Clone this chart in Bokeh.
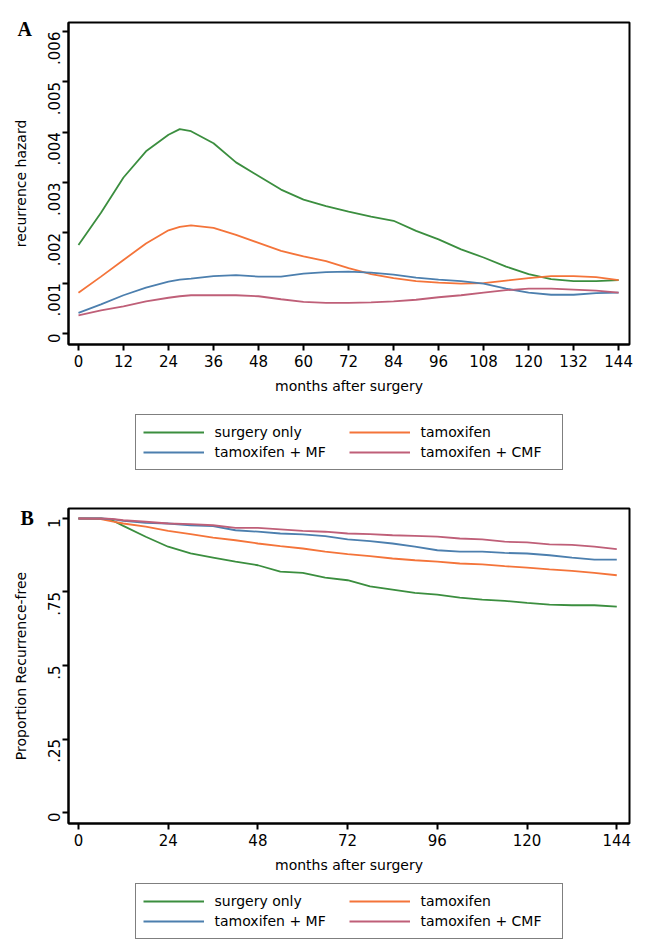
import math
from bokeh.plotting import figure
from bokeh.models import Range1d, FixedTicker, Legend, LegendItem
from bokeh.layouts import column
from bokeh.embed import file_html
from bokeh.resources import INLINE

# ---------------- data ----------------
series_names = ["surgery only", "tamoxifen", "tamoxifen + MF", "tamoxifen + CMF"]
series_colors = ["#3b8e3f", "#f4743a", "#4c7fae", "#bf5f78"]

months_a = [0, 6, 12, 18, 24, 27, 30, 36, 42, 48, 54, 60, 66, 72, 78, 84, 90, 96,
            102, 108, 114, 120, 126, 132, 138, 144]
hazard_surgery = [0.00176, 0.00240, 0.00310, 0.00362, 0.00395, 0.00406, 0.00402, 0.00378,
                  0.00340, 0.00313, 0.00286, 0.00266, 0.00253, 0.00242, 0.00232, 0.00224,
                  0.00204, 0.00187, 0.00167, 0.00151, 0.00133, 0.00118, 0.00108, 0.00104,
                  0.00104, 0.00106]
hazard_tam = [0.00081, 0.00113, 0.00146, 0.00179, 0.00205, 0.00212, 0.00215, 0.00210,
              0.00196, 0.00180, 0.00164, 0.00153, 0.00144, 0.00130, 0.00118, 0.00110,
              0.00104, 0.00101, 0.00099, 0.00100, 0.00105, 0.00110, 0.00114, 0.00114,
              0.00112, 0.00106]
hazard_mf = [0.00041, 0.00058, 0.00076, 0.00091, 0.00103, 0.00107, 0.00109, 0.00114,
             0.00116, 0.00113, 0.00113, 0.00119, 0.00122, 0.00123, 0.00121, 0.00117,
             0.00111, 0.00107, 0.00104, 0.00099, 0.00089, 0.00081, 0.00077, 0.00077,
             0.00080, 0.00081]
hazard_cmf = [0.00036, 0.00046, 0.00054, 0.00064, 0.00071, 0.00074, 0.00076, 0.00076,
              0.00076, 0.00074, 0.00068, 0.00063, 0.00061, 0.00061, 0.00062, 0.00064,
              0.00067, 0.00072, 0.00076, 0.00081, 0.00086, 0.00089, 0.00089, 0.00087,
              0.00085, 0.00081]

months_b = [0, 6, 9, 12, 18, 24, 30, 36, 42, 48, 54, 60, 66, 72, 78, 84, 90, 96,
            102, 108, 114, 120, 126, 132, 138, 144]
free_surgery = [1.0, 1.0, 0.994, 0.975, 0.938, 0.904, 0.881, 0.867, 0.853, 0.841, 0.819,
                0.815, 0.799, 0.790, 0.769, 0.758, 0.747, 0.741, 0.731, 0.724, 0.720,
                0.713, 0.707, 0.705, 0.705, 0.700]
free_tam = [1.0, 0.998, 0.990, 0.983, 0.972, 0.958, 0.947, 0.935, 0.926, 0.915, 0.906,
            0.898, 0.887, 0.879, 0.872, 0.864, 0.858, 0.853, 0.847, 0.844, 0.838,
            0.833, 0.827, 0.822, 0.815, 0.807]
free_mf = [1.0, 1.0, 0.998, 0.992, 0.985, 0.983, 0.977, 0.974, 0.960, 0.955, 0.949,
           0.946, 0.940, 0.929, 0.923, 0.915, 0.904, 0.892, 0.887, 0.887, 0.883,
           0.881, 0.875, 0.867, 0.860, 0.860]
free_cmf = [1.0, 1.0, 0.999, 0.994, 0.989, 0.983, 0.981, 0.977, 0.968, 0.968, 0.963,
            0.958, 0.955, 0.949, 0.947, 0.943, 0.941, 0.938, 0.932, 0.929, 0.921,
            0.919, 0.912, 0.910, 0.904, 0.896]

xticks_a = [0, 12, 24, 36, 48, 60, 72, 84, 96, 108, 120, 132, 144]
yticks_a = [0, 0.001, 0.002, 0.003, 0.004, 0.005, 0.006]
ylabels_a = ["0", ".001", ".002", ".003", ".004", ".005", ".006"]
xticks_b = [0, 24, 48, 72, 96, 120, 144]
yticks_b = [0, 0.25, 0.5, 0.75, 1]
ylabels_b = ["0", ".25", ".5", ".75", "1"]

FONT = "DejaVu Sans"
LW = 1.8


def style(p, xticks, yticks, ylabels, ylabel):
    p.outline_line_color = "black"
    p.outline_line_width = 2
    p.xgrid.visible = False
    p.ygrid.visible = False
    p.background_fill_color = "white"
    p.border_fill_color = "white"
    p.xaxis.ticker = FixedTicker(ticks=xticks)
    p.yaxis.ticker = FixedTicker(ticks=yticks)
    p.yaxis.major_label_overrides = {t: l for t, l in zip(yticks, ylabels)}
    p.yaxis.major_label_orientation = math.pi / 2
    for ax in (p.xaxis, p.yaxis):
        ax.axis_line_color = "black"
        ax.axis_line_width = 2
        ax.major_tick_line_color = "black"
        ax.major_tick_line_width = 2
        ax.major_tick_out = 6
        ax.major_tick_in = 0
        ax.minor_tick_out = 0
        ax.minor_tick_in = 0
        ax.major_label_text_font = FONT
        ax.major_label_text_font_size = "15px"
        ax.major_label_text_color = "black"
        ax.axis_label_text_font = FONT
        ax.axis_label_text_font_size = "14px"
        ax.axis_label_text_font_style = "normal"
        ax.axis_label_text_color = "black"
    p.xaxis.major_label_standoff = 4
    p.xaxis.axis_label_standoff = 8
    p.yaxis.major_label_standoff = 8
    p.yaxis.axis_label_standoff = 11
    p.xaxis.axis_label = "months after surgery"
    p.yaxis.axis_label = ylabel
    p.title.text_font = "Liberation Serif"
    p.title.text_font_style = "bold"
    p.title.text_font_size = "20px"
    p.title.text_color = "black"
    p.title.align = "left"


def legend_figure(height, xs, series, b_left, b_top, b_bottom):
    # legend-only strip: the series are drawn through the scales but kept out of view
    q = figure(width=640, height=height, output_backend="svg", toolbar_location=None,
               x_axis_type=None, y_axis_type=None,
               x_range=Range1d(0, 1), y_range=Range1d(10, 11),
               min_border_left=b_left, min_border_right=0, min_border_top=b_top,
               min_border_bottom=b_bottom)
    q.outline_line_color = None
    q.xgrid.visible = False
    q.ygrid.visible = False
    q.background_fill_color = "white"
    q.border_fill_color = "white"
    rs = [q.line(xs, ys, line_color=c, line_width=LW) for ys, c in zip(series, series_colors)]
    items = [LegendItem(label=n, renderers=[r]) for n, r in zip(series_names, rs)]
    leg = Legend(items=items, ncols=2, orientation="horizontal", location="center")
    leg.border_line_color = "black"
    leg.border_line_width = 1.5
    leg.padding = 7
    leg.spacing = 0
    leg.glyph_width = 61
    leg.glyph_height = 20
    leg.label_height = 20
    leg.label_width = 134
    leg.label_standoff = 11
    leg.label_text_font = FONT
    leg.label_text_font_size = "14px"
    leg.label_text_color = "black"
    leg.margin = 0
    leg.background_fill_color = "white"
    q.add_layout(leg)
    return q


# ---------------- panel A ----------------
pA = figure(width=640, height=400, output_backend="svg", toolbar_location=None,
            title="A",
            x_range=Range1d(-2.66, 146.9), y_range=Range1d(-0.000219, 0.00618),
            min_border_left=68, min_border_right=9, min_border_top=22,
            min_border_bottom=56)
style(pA, xticks_a, yticks_a, ylabels_a, "recurrence hazard")
pA.title.offset = -51
pA.title.standoff = -34
for ys, c in zip([hazard_surgery, hazard_tam, hazard_mf, hazard_cmf], series_colors):
    pA.line(months_a, ys, line_color=c, line_width=LW)

legA = legend_figure(78, months_a, [hazard_surgery, hazard_tam, hazard_mf, hazard_cmf],
                     57, 10, 5)

# ---------------- panel B ----------------
pB = figure(width=640, height=402, output_backend="svg", toolbar_location=None,
            title="B",
            x_range=Range1d(-2.66, 147.4), y_range=Range1d(-0.0374, 1.034),
            min_border_left=65, min_border_right=11, min_border_top=30,
            min_border_bottom=57)
style(pB, xticks_b, yticks_b, ylabels_b, "Proportion Recurrence-free")
pB.title.offset = -48
pB.title.standoff = -40
for ys, c in zip([free_surgery, free_tam, free_mf, free_cmf], series_colors):
    pB.line(months_b, ys, line_color=c, line_width=LW)

legB = legend_figure(62, months_b, [free_surgery, free_tam, free_mf, free_cmf],
                     54, 2, 2)

layout = column(pA, legA, pB, legB, spacing=0)
open("out.html", "w").write(file_html(layout, INLINE))
